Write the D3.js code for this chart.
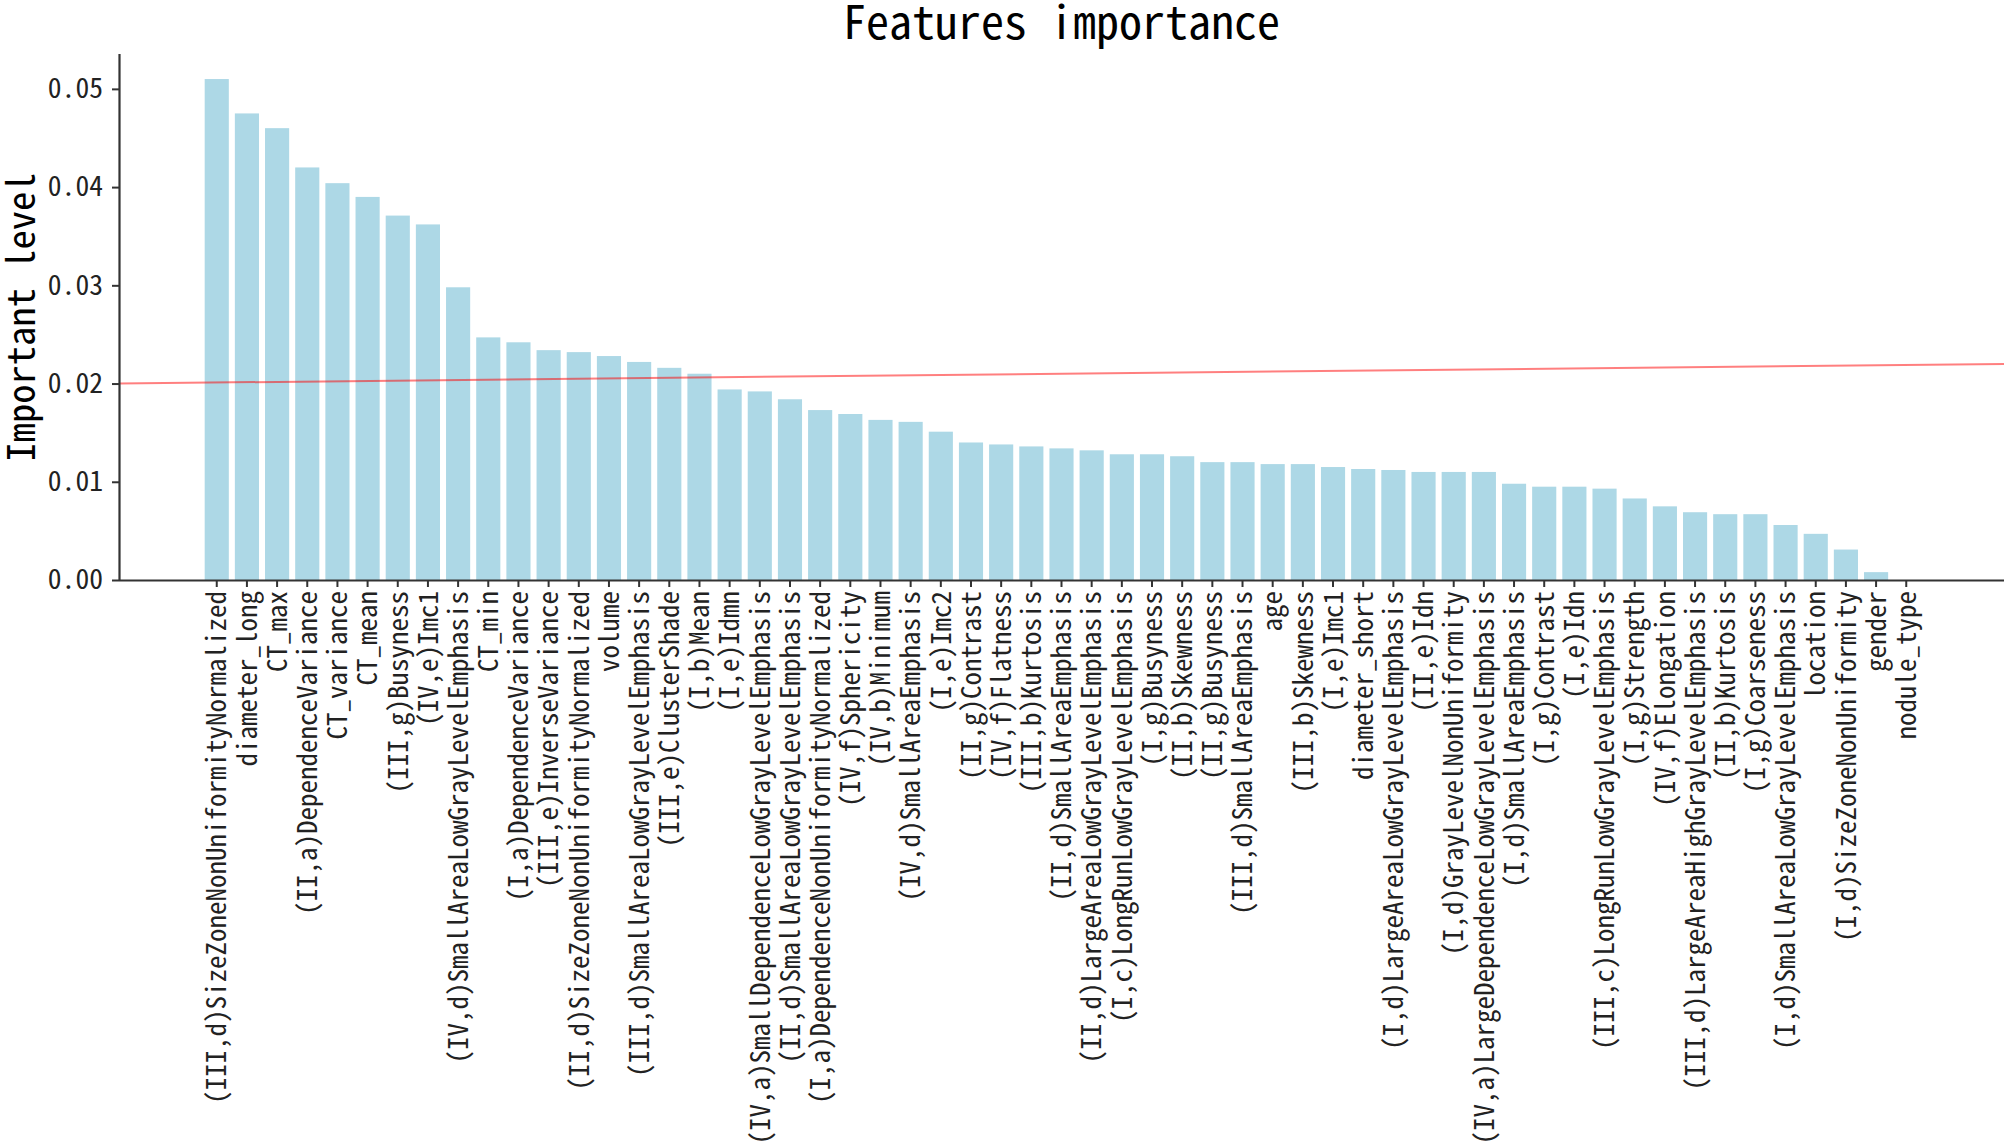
<!DOCTYPE html>
<html>
<head>
<meta charset="utf-8">
<script src="https://cdn.jsdelivr.net/npm/d3@7"></script>
<style>
html, body { margin: 0; padding: 0; background: #fff; }
svg { display: block; }
</style>
</head>
<body>
<svg id="chart" width="2008" height="1144"></svg>
<script>
// ---- data ----
const features = [
  "(III,d)SizeZoneNonUniformityNormalized", "diameter_long", "CT_max",
  "(II,a)DependenceVariance", "CT_variance", "CT_mean", "(III,g)Busyness",
  "(IV,e)Imc1", "(IV,d)SmallAreaLowGrayLevelEmphasis", "CT_min",
  "(I,a)DependenceVariance", "(III,e)InverseVariance",
  "(II,d)SizeZoneNonUniformityNormalized", "volume",
  "(III,d)SmallAreaLowGrayLevelEmphasis", "(III,e)ClusterShade", "(I,b)Mean",
  "(I,e)Idmn", "(IV,a)SmallDependenceLowGrayLevelEmphasis",
  "(II,d)SmallAreaLowGrayLevelEmphasis", "(I,a)DependenceNonUniformityNormalized",
  "(IV,f)Sphericity", "(IV,b)Minimum", "(IV,d)SmallAreaEmphasis", "(I,e)Imc2",
  "(II,g)Contrast", "(IV,f)Flatness", "(III,b)Kurtosis", "(II,d)SmallAreaEmphasis",
  "(II,d)LargeAreaLowGrayLevelEmphasis", "(I,c)LongRunLowGrayLevelEmphasis",
  "(I,g)Busyness", "(II,b)Skewness", "(II,g)Busyness", "(III,d)SmallAreaEmphasis",
  "age", "(III,b)Skewness", "(I,e)Imc1", "diameter_short",
  "(I,d)LargeAreaLowGrayLevelEmphasis", "(II,e)Idn", "(I,d)GrayLevelNonUniformity",
  "(IV,a)LargeDependenceLowGrayLevelEmphasis", "(I,d)SmallAreaEmphasis",
  "(I,g)Contrast", "(I,e)Idn", "(III,c)LongRunLowGrayLevelEmphasis",
  "(I,g)Strength", "(IV,f)Elongation", "(III,d)LargeAreaHighGrayLevelEmphasis",
  "(II,b)Kurtosis", "(I,g)Coarseness", "(I,d)SmallAreaLowGrayLevelEmphasis",
  "location", "(I,d)SizeZoneNonUniformity", "gender", "nodule_type"
];
const importance = [
  0.0510, 0.0475, 0.0460, 0.0420, 0.0404, 0.0390, 0.0371, 0.0362, 0.0298, 0.0247,
  0.0242, 0.0234, 0.0232, 0.0228, 0.0222, 0.0216, 0.0210, 0.0194, 0.0192, 0.0184,
  0.0173, 0.0169, 0.0163, 0.0161, 0.0151, 0.0140, 0.0138, 0.0136, 0.0134, 0.0132,
  0.0128, 0.0128, 0.0126, 0.0120, 0.0120, 0.0118, 0.0118, 0.0115, 0.0113, 0.0112,
  0.0110, 0.0110, 0.0110, 0.0098, 0.0095, 0.0095, 0.0093, 0.0083, 0.0075, 0.0069,
  0.0067, 0.0067, 0.0056, 0.0047, 0.0031, 0.0008, 0.0000
];
const yTicks = [0.00, 0.01, 0.02, 0.03, 0.04, 0.05];
const thresholdLine = [0.020, 0.022]; // red reference line: value at left end, value at right end
const titleText = "Features importance";
const yLabelText = "Important level";

// ---- layout ----
const W = 2008, H = 1144;
const margin = { left: 119, right: 4, top: 54, bottom: 564 };
const plotL = margin.left, plotR = W - margin.right;
const plotT = margin.top, plotB = H - margin.bottom;

const FONT = '"Noto Sans Mono CJK SC", "Noto Sans Mono CJK JP", "DejaVu Sans Mono", monospace';

const svg = d3.select("#chart");

// measure the monospace advance so text widths match the reference
function sizeFor(step) {
  const t = svg.append("text").attr("font-family", FONT).attr("font-size", 100)
    .text("MMMMMMMMMM");
  const len = t.node().getComputedTextLength();
  t.remove();
  return 100 * step / (len / 10);
}
const tickFont = sizeFor(13.5);
const yTickFont = sizeFor(13.8);
const titleFont = sizeFor(23.0);
const ylabFont = sizeFor(19.3);

// ---- scales ----
const x = d3.scaleBand()
  .domain(features)
  .range([plotL, plotR])
  .paddingInner(0.2)
  .paddingOuter(2.84);

const ymax = d3.max(importance) * 1.05;
const y = d3.scaleLinear().domain([0, ymax]).range([plotB, plotT]);

// ---- bars ----
svg.append("g").selectAll("rect")
  .data(features.map((f, i) => ({ f, v: importance[i] })))
  .join("rect")
  .attr("x", d => x(d.f))
  .attr("width", x.bandwidth())
  .attr("y", d => y(d.v))
  .attr("height", d => y(0) - y(d.v))
  .attr("fill", "#add8e6");

// ---- red reference line ----
const lineX = d3.scaleLinear().domain([0, 1]).range([plotL, plotR]);
svg.append("path")
  .datum(thresholdLine.map((v, i) => [i, v]))
  .attr("d", d3.line().x(d => lineX(d[0])).y(d => y(d[1])))
  .attr("fill", "none")
  .attr("stroke", "#ff0000")
  .attr("stroke-opacity", 0.5)
  .attr("stroke-width", 2);

// ---- axes ----
const yAxis = d3.axisLeft(y).tickValues(yTicks).tickFormat(d3.format(".2f"))
  .tickSize(7).tickPadding(9);
const gy = svg.append("g").attr("transform", `translate(${plotL},0)`).call(yAxis);
gy.select(".domain").attr("d", `M0.5,${plotT}V${plotB}`).attr("stroke", "#333").attr("stroke-width", 2.2);
gy.selectAll(".tick line").attr("stroke", "#333").attr("stroke-width", 2);
gy.selectAll(".tick text").attr("font-family", FONT).attr("font-size", yTickFont)
  .attr("fill", "#222");

const xAxis = d3.axisBottom(x).tickSize(7).tickPadding(0);
const gx = svg.append("g").attr("transform", `translate(0,${plotB})`).call(xAxis);
gx.select(".domain").attr("d", `M${plotL},0.5H${plotR}`).attr("stroke", "#333").attr("stroke-width", 2.2);
gx.selectAll(".tick line").attr("stroke", "#333").attr("stroke-width", 2);
gx.selectAll(".tick text")
  .attr("font-family", FONT).attr("font-size", tickFont).attr("fill", "#222")
  .attr("text-anchor", "end")
  .attr("transform", "rotate(-90)")
  .attr("x", -11).attr("y", 0).attr("dy", "0.36em");

// ---- title & label ----
svg.append("text")
  .attr("x", (plotL + plotR) / 2).attr("y", 39)
  .attr("text-anchor", "middle")
  .attr("font-family", FONT).attr("font-size", titleFont).attr("fill", "#000")
  .text(titleText);

svg.append("text")
  .attr("transform", `translate(${35},${(plotT + plotB) / 2}) rotate(-90)`)
  .attr("text-anchor", "middle")
  .attr("font-family", FONT).attr("font-size", ylabFont).attr("fill", "#000")
  .text(yLabelText);
</script>
</body>
</html>
